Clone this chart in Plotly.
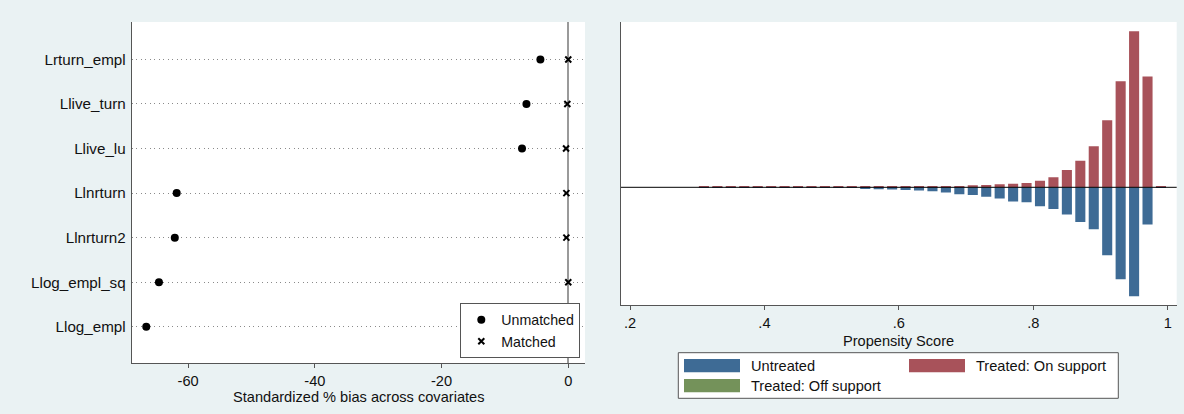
import plotly.graph_objects as go

# ---------------- data: left panel (standardized % bias) ----------------
covariates = ['Llog_empl', 'Llog_empl_sq', 'Llnrturn2', 'Llnrturn',
              'Llive_lu', 'Llive_turn', 'Lrturn_empl']
unmatched = [-66.6, -64.6, -62.1, -61.8, -7.3, -6.6, -4.4]
matched = [-0.1, 0.0, -0.3, -0.3, -0.35, -0.15, 0.0]
bias_ticks = [-60, -40, -20, 0]
bias_ticktext = ['-60', '-40', '-20', '0']

# ---------------- data: right panel (propensity score histogram) ----------------
bins = [0.31, 0.33, 0.35, 0.37, 0.39, 0.41, 0.43, 0.45, 0.47, 0.49,
        0.51, 0.53, 0.55, 0.57, 0.59, 0.61, 0.63, 0.65, 0.67, 0.69,
        0.71, 0.73, 0.75, 0.77, 0.79, 0.81, 0.83, 0.85, 0.87, 0.89,
        0.91, 0.93, 0.95, 0.97, 0.99]
treated_on = [0.5, 0.5, 0.5, 0.5, 0.5, 0.5, 0.5, 0.6, 0.6, 0.6,
              0.6, 0.6, 0.6, 0.6, 0.7, 0.7, 0.8, 0.8, 0.8, 1.3,
              2.0, 2.3, 3.0, 3.6, 4.3, 6.5, 10.0, 17.2, 26.5, 41.0,
              67.0, 106.0, 156.0, 110.7, 0.4]
untreated = [0.3, 0.3, 0.3, 0.3, 0.3, 0.3, 0.3, 0.5, 0.5, 0.5,
             0.5, 0.5, 1.5, 2.0, 2.3, 2.8, 3.3, 4.0, 5.2, 7.0,
             7.8, 9.5, 11.3, 14.3, 15.0, 19.0, 21.7, 27.3, 34.7, 42.0,
             68.0, 92.0, 109.0, 37.3, 0.3]
treated_off = [0.0] * len(bins)
ps_ticks = [0.2, 0.4, 0.6, 0.8, 1.0]
ps_ticktext = ['.2', '.4', '.6', '.8', '1']

BLUE = '#3e6b95'
RED = '#a8525a'
GREEN = '#74925a'
BG = '#eaf2f3'
AX = '#555555'
FONT = 'Liberation Sans, Arial, sans-serif'
FS = 14.6
W, H = 1184, 414

def px(x):
    return x / W

def py(y):
    return 1 - y / H

fig = go.Figure()

fig.add_trace(go.Scatter(
    x=unmatched, y=covariates, mode='markers', name='Unmatched',
    marker=dict(symbol='circle', size=8, color='black'),
    xaxis='x', yaxis='y', legend='legend'))
fig.add_trace(go.Scatter(
    x=matched, y=covariates, mode='markers', name='Matched',
    marker=dict(symbol='x-thin', size=6, color='black',
                line=dict(width=2, color='black')),
    xaxis='x', yaxis='y', legend='legend'))

fig.add_trace(go.Bar(
    x=bins, y=treated_on, name='Treated: On support', marker_color=RED,
    marker_line_width=0, width=0.015, xaxis='x2', yaxis='y2', showlegend=False))
fig.add_trace(go.Bar(
    x=bins, y=[-v for v in untreated], name='Untreated', marker_color=BLUE,
    marker_line_width=0, width=0.015, xaxis='x2', yaxis='y2', showlegend=False))
fig.add_trace(go.Bar(
    x=bins, y=treated_off, name='Treated: Off support', marker_color=GREEN,
    marker_line_width=0, width=0.015, xaxis='x2', yaxis='y2', showlegend=False))

fig.update_layout(
    width=W, height=H,
    margin=dict(l=0, r=0, t=0, b=0),
    paper_bgcolor=BG, plot_bgcolor='white',
    font=dict(family=FONT, size=FS, color='#111111'),
    barmode='overlay',
    xaxis=dict(
        domain=[px(131.7), px(585)], range=[-68.9, 2.64],
        tickvals=bias_ticks, ticktext=bias_ticktext,
        ticks='outside', ticklen=4, tickcolor=AX, tickwidth=1,
        ticklabelstandoff=0,
        showline=True, linecolor=AX, linewidth=1,
        showgrid=False, zeroline=True, zerolinecolor='#9a9a9a', zerolinewidth=1.5,
        anchor='y'),
    yaxis=dict(
        domain=[py(363.3), py(22)], type='category',
        categoryorder='array', categoryarray=covariates,
        range=[-0.82, 6.84],
        showline=True, linecolor=AX, linewidth=1, ticks='',
        showgrid=True, gridcolor='#8a8a8a', gridwidth=1, griddash='1px,3.5px',
        tickfont=dict(size=15.2),
        ticklabelstandoff=2, anchor='x'),
    xaxis2=dict(
        domain=[px(621), px(1176.7)], range=[0.1866, 1.0134],
        tickvals=ps_ticks, ticktext=ps_ticktext,
        ticks='outside', ticklen=4, tickcolor=AX, tickwidth=1,
        ticklabelstandoff=0,
        showline=True, linecolor=AX, linewidth=1,
        showgrid=False, zeroline=False,
        anchor='y2'),
    yaxis2=dict(
        domain=[py(305), py(22)], range=[-117.7, 165.3],
        showline=True, linecolor=AX, linewidth=1,
        ticks='', showticklabels=False, showgrid=False, zeroline=False,
        anchor='x2'),
    legend=dict(
        x=px(580.3), xanchor='right', y=py(358), yanchor='bottom',
        bgcolor='white', bordercolor=AX, borderwidth=1,
        itemwidth=30, tracegroupgap=0, font=dict(size=14.2)),
)

# axis titles (placed tight under the tick labels, as in the original)
fig.add_annotation(text='Standardized % bias across covariates', xref='x domain', yref='paper',
                   x=0.5, y=py(397), xanchor='center', yanchor='middle',
                   showarrow=False, font=dict(size=FS))
fig.add_annotation(text='Propensity Score', xref='x2 domain', yref='paper',
                   x=0.5, y=py(340.5), xanchor='center', yanchor='middle',
                   showarrow=False, font=dict(size=FS))

# baseline of the mirrored histogram, drawn above the bars
fig.add_shape(type='line', xref='x2 domain', x0=0, x1=1, yref='y2', y0=0, y1=0,
              line=dict(color='black', width=1), layer='above')

# legend of the histogram panel (wide swatches, two columns)
fig.add_shape(type='rect', xref='paper', yref='paper',
              x0=px(678.3), x1=px(1118.3), y0=py(398.3), y1=py(352.7),
              fillcolor='white', line=dict(color=AX, width=1))
legend_items = [
    ('Untreated', BLUE, 684, 359),
    ('Treated: On support', RED, 909, 359),
    ('Treated: Off support', GREEN, 684, 379),
]
for label, col, x0, y0 in legend_items:
    fig.add_shape(type='rect', xref='paper', yref='paper',
                  x0=px(x0), x1=px(x0 + 56), y0=py(y0 + 13.3), y1=py(y0),
                  fillcolor=col, line=dict(width=0))
    fig.add_annotation(text=label, xref='paper', yref='paper',
                       x=px(x0 + 65), y=py(y0 + 6.7), xanchor='left', yanchor='middle',
                       showarrow=False, font=dict(size=FS))

fig.write_html('out.html',
               config={'displayModeBar': False},
               post_script="document.body.style.margin='0px';"
                           "document.body.style.overflow='hidden';")
